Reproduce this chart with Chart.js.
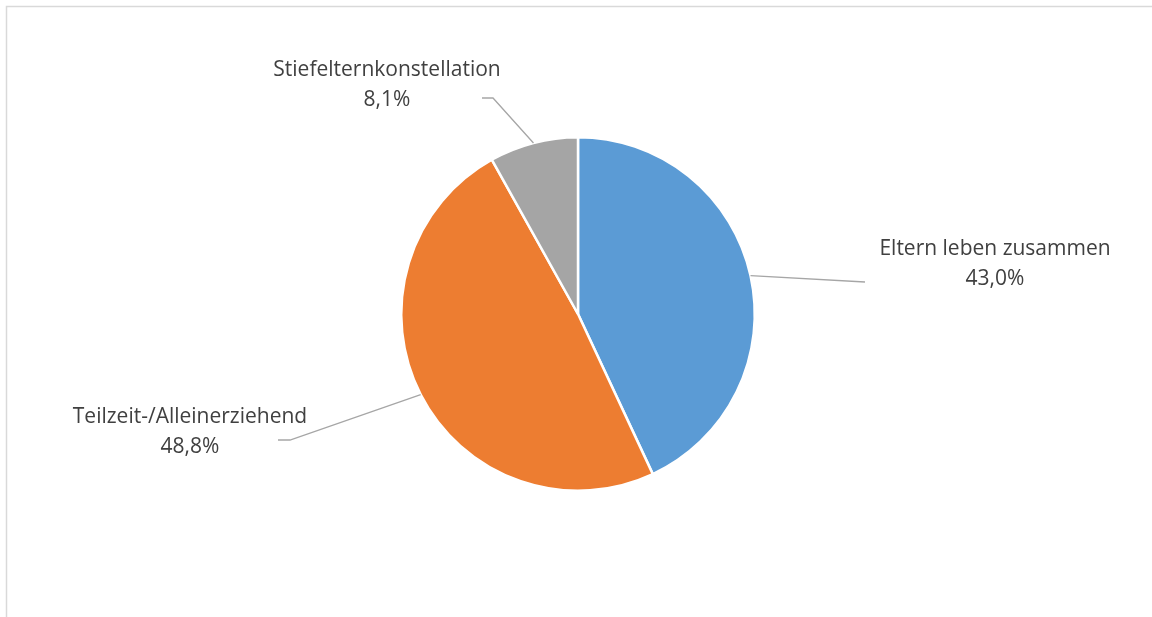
<!DOCTYPE html>
<html>
<head>
<meta charset="utf-8">
<script src="https://cdn.jsdelivr.net/npm/chart.js@4"></script>
<style>
  html, body { margin: 0; padding: 0; background: #fff; }
  canvas { display: block; }
</style>
</head>
<body>
<canvas id="pieChart" width="1152" height="617"></canvas>
<script>
const categories = ["Eltern leben zusammen", "Teilzeit-/Alleinerziehend", "Stiefelternkonstellation"];
const shares = [43.0, 48.8, 8.1];
const sliceColors = ["#5B9BD5", "#ED7D31", "#A5A5A5"];

// label text centre and leader bend/end, in px from the pie centre
const labelLayout = [
  { text: [417, -65], bend: [287, -32], end: [287, -32] },
  { text: [-388, 103], bend: [-288, 126], end: [-300, 126] },
  { text: [-191, -244], bend: [-85, -216], end: [-96, -216] },
];

const fmtPct = (v) => v.toFixed(1).replace(".", ",") + "%";

const frame = {
  id: "frame",
  beforeDraw(chart) {
    const ctx = chart.ctx;
    ctx.save();
    ctx.strokeStyle = "#d9d9d9";
    ctx.lineWidth = 1.5;
    ctx.beginPath();
    ctx.moveTo(6.5, chart.height);
    ctx.lineTo(6.5, 6.5);
    ctx.lineTo(chart.width, 6.5);
    ctx.stroke();
    ctx.restore();
  },
};

const sliceLabels = {
  id: "sliceLabels",
  afterDatasetsDraw(chart) {
    const ctx = chart.ctx;
    const meta = chart.getDatasetMeta(0);
    ctx.save();
    meta.data.forEach((arc, i) => {
      const p = arc.getProps(["x", "y", "startAngle", "endAngle", "outerRadius"], true);
      const mid = (p.startAngle + p.endAngle) / 2;
      const lay = labelLayout[i];
      ctx.strokeStyle = "#a6a6a6";
      ctx.lineWidth = 1.3;
      ctx.beginPath();
      ctx.moveTo(p.x + Math.cos(mid) * p.outerRadius, p.y + Math.sin(mid) * p.outerRadius);
      ctx.lineTo(p.x + lay.bend[0], p.y + lay.bend[1]);
      ctx.lineTo(p.x + lay.end[0], p.y + lay.end[1]);
      ctx.stroke();

      ctx.fillStyle = "#404040";
      ctx.font = "21px 'Open Sans'";
      ctx.textAlign = "center";
      ctx.textBaseline = "middle";
      const tx = p.x + lay.text[0];
      const ty = p.y + lay.text[1];
      ctx.fillText(categories[i], tx, ty);
      ctx.fillText(fmtPct(shares[i]), tx, ty + 30);
    });
    ctx.restore();
  },
};

new Chart("pieChart", {
  type: "pie",
  data: {
    labels: categories,
    datasets: [
      {
        data: shares,
        backgroundColor: sliceColors,
        borderColor: "#ffffff",
        borderWidth: 2.5,
      },
    ],
  },
  options: {
    responsive: false,
    animation: false,
    layout: { padding: { left: 400, right: 396, top: 136, bottom: 125 } },
    plugins: {
      legend: { display: false },
      tooltip: { enabled: false },
    },
  },
  plugins: [frame, sliceLabels],
});
</script>
</body>
</html>
